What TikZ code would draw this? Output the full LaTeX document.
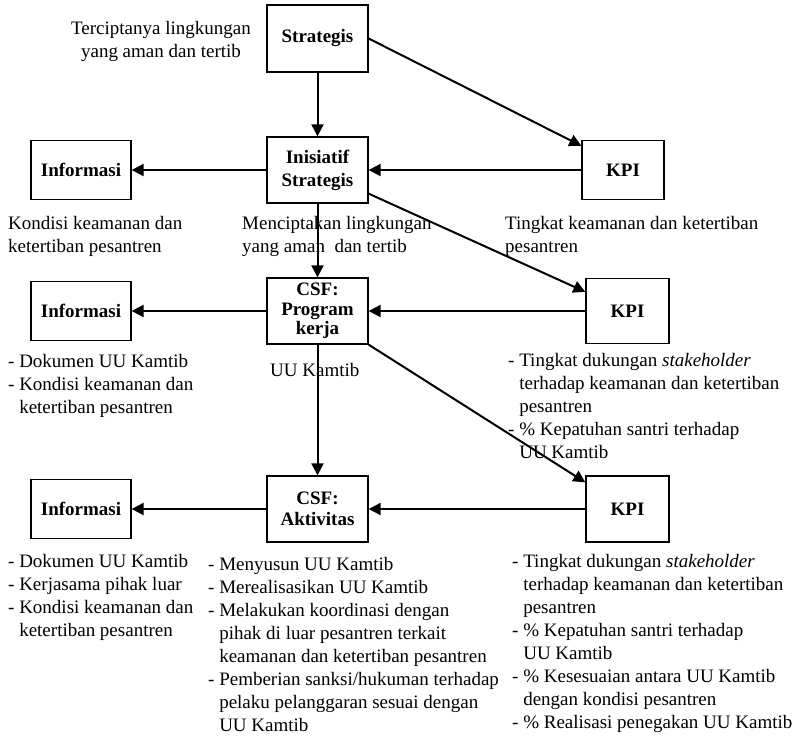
\documentclass[tikz,border=0pt]{standalone}
\usepackage{fontspec}
\setmainfont{Liberation Serif}
\usetikzlibrary{arrows.meta}

% indent for the continuation lines of a dashed list
\newcommand{\hang}{\hphantom{- }}

\begin{document}
\begin{tikzpicture}[x=1pt, y=-1pt,
    box/.style={draw, line width=1.3pt, inner sep=0pt, align=center,
        font=\fontsize{19}{21}\selectfont\bfseries},
    % notes are placed by the baseline of their last line
    note/.style={inner sep=0pt, align=left, anchor=base west,
        font=\fontsize{19}{23}\selectfont},
    link/.style={-{Triangle[length=12pt, width=12pt]}, line width=2pt}]
    \useasboundingbox (0,0) rectangle (798,737);

    % Top level
    \node[box, minimum width=101pt, minimum height=67pt] (strat) at (317.5,38.5) {Strategis};
    \node[inner sep=0pt, align=center, font=\fontsize{19}{23}\selectfont, anchor=base]
        (strattxt) at (161,57) {Terciptanya lingkungan\\yang aman dan tertib};

    % Inisiatif row
    \node[box, minimum width=101pt, minimum height=66pt,
        font=\fontsize{19}{23}\selectfont\bfseries] (inis) at (317.5,170) {Inisiatif\\Strategis};
    \node[box, minimum width=100pt, minimum height=59pt] (info1) at (81,170) {Informasi};
    \node[box, minimum width=82pt, minimum height=59pt] (kpi1) at (623,170) {KPI};

    % Program kerja row
    \node[box, minimum width=101pt, minimum height=66pt,
        font=\fontsize{19}{19.5}\selectfont\bfseries] (prog) at (317.5,311) {CSF:\\Program\\kerja};
    \node[box, minimum width=100pt, minimum height=59pt] (info2) at (81,311) {Informasi};
    \node[box, minimum width=83pt, minimum height=65pt] (kpi2) at (627.5,311) {KPI};

    % Aktivitas row
    \node[box, minimum width=101pt, minimum height=66pt,
        font=\fontsize{19}{20.5}\selectfont\bfseries] (akt) at (317.5,509) {CSF:\\Aktivitas};
    \node[box, minimum width=100pt, minimum height=59pt] (info3) at (81,509) {Informasi};
    \node[box, minimum width=83pt, minimum height=66pt] (kpi3) at (627.5,509) {KPI};

    % Descriptions under the boxes
    \node[note] (infotxt1) at (8,252) {Kondisi keamanan dan\\ketertiban pesantren};
    \node[note] (inistxt) at (242,252) {Menciptakan lingkungan\\yang aman \ dan tertib};
    \node[note] (kpitxt1) at (505,252) {Tingkat keamanan dan ketertiban\\pesantren};

    \node[note] (infotxt2) at (8,413) {- Dokumen UU Kamtib\\- Kondisi keamanan dan\\\hang ketertiban pesantren};
    \node[note] (progtxt) at (270,376) {UU Kamtib};
    \node[note] (kpitxt2) at (508,458) {- Tingkat dukungan \textit{stakeholder}\\\hang terhadap keamanan dan ketertiban\\\hang pesantren\\- \% Kepatuhan santri terhadap\\\hang UU Kamtib};

    \node[note] (infotxt3) at (8,636) {- Dokumen UU Kamtib\\- Kerjasama pihak luar\\- Kondisi keamanan dan\\\hang ketertiban pesantren};
    \node[note] (akttxt) at (208,731) {- Menyusun UU Kamtib\\- Merealisasikan UU Kamtib\\- Melakukan koordinasi dengan\\\hang pihak di luar pesantren terkait\\\hang keamanan dan ketertiban pesantren\\- Pemberian sanksi/hukuman terhadap\\\hang pelaku pelanggaran sesuai dengan\\\hang UU Kamtib};
    \node[note] (kpitxt3) at (512,728) {- Tingkat dukungan \textit{stakeholder}\\\hang terhadap keamanan dan ketertiban\\\hang pesantren\\- \% Kepatuhan santri terhadap\\\hang UU Kamtib\\- \% Kesesuaian antara UU Kamtib\\\hang dengan kondisi pesantren\\- \% Realisasi penegakan UU Kamtib};

    % Vertical chain
    \draw[link] (strat) -- (inis);
    \draw[link] (inis) -- (prog);
    \draw[link] (prog) -- (akt);

    % Diagonals to the KPI boxes
    \draw[link] (strat.east) -- ([yshift=-6pt]kpi1.north west);
    \draw[link] ([yshift=10pt]inis.south east) -- ([yshift=-14pt]kpi2.north west);
    \draw[link] (prog.south east) -- ([yshift=-7pt]kpi3.north west);

    % KPI back to the middle column
    \draw[link] (kpi1) -- (inis);
    \draw[link] (kpi2) -- (prog);
    \draw[link] (kpi3) -- (akt);

    % Middle column out to Informasi
    \draw[link] (inis) -- (info1);
    \draw[link] (prog) -- (info2);
    \draw[link] (akt) -- (info3);
\end{tikzpicture}
\end{document}
